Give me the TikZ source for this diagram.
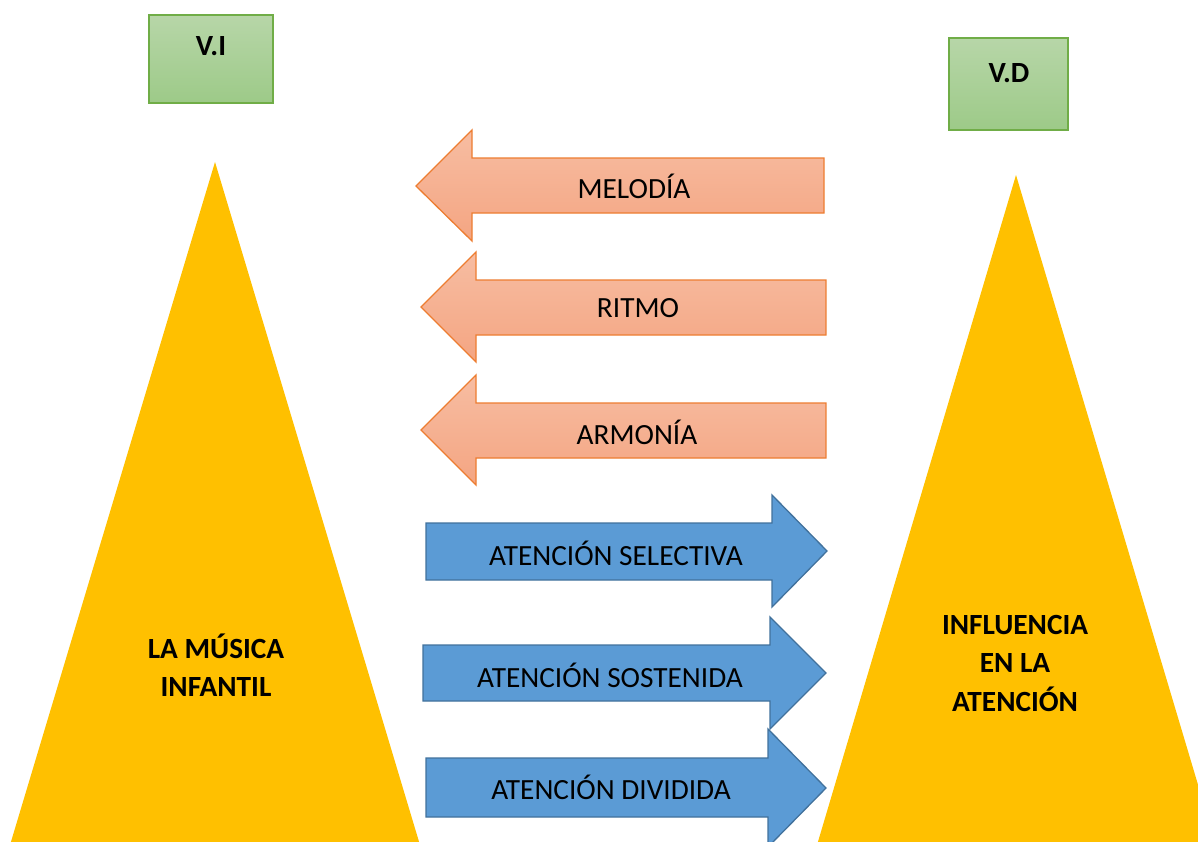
\documentclass[tikz,border=0pt]{standalone}
\usepackage{fontspec}
\setmainfont{Carlito}
\definecolor{tri}{HTML}{FFC000}
\definecolor{gtop}{HTML}{B7D6A8}
\definecolor{gbot}{HTML}{9DCA88}
\definecolor{gline}{HTML}{70AD47}
\definecolor{otop}{HTML}{F7BDA2}
\definecolor{obot}{HTML}{F4A582}
\definecolor{oline}{HTML}{ED7D31}
\definecolor{bfill}{HTML}{5B9BD5}
\definecolor{bline}{HTML}{41719C}
\begin{document}
\begin{tikzpicture}[x=1pt,y=-1pt,
  vbox/.style={draw=gline,line width=1.3pt,top color=gtop,bottom color=gbot},
  triangle/.style={fill=tri},
  oarrow/.style={draw=oline,line width=1.3pt,top color=otop,bottom color=obot,line join=miter},
  barrow/.style={draw=bline,line width=1.3pt,fill=bfill,line join=miter},
  lbl/.style={font=\fontsize{29.3}{35}\selectfont,inner sep=0pt},
  blbl/.style={font=\fontsize{29.3}{38.5}\selectfont\bfseries,align=center,inner sep=0pt}]
\useasboundingbox (0,0) rectangle (1198,841);
\clip (0,0) rectangle (1198,841);
% triangles
\fill[triangle] (215,162) -- (420,845) -- (10,845) -- cycle;
\fill[triangle] (1016,175) -- (1216,845) -- (817,845) -- cycle;
% green boxes
\draw[vbox] (149,15) rectangle (273,103);
\draw[vbox] (949,38) rectangle (1068,130);
\node[blbl] (vi) at (211,46) {V.I};
\node[blbl] (vd) at (1009,73) {V.D};
% orange arrows (pointing left)
\draw[oarrow] (416,186) -- (472,130) -- (472,158) -- (824,158) -- (824,213) -- (472,213) -- (472,241) -- cycle;
\draw[oarrow] (421,307) -- (476,252) -- (476,280) -- (826,280) -- (826,335) -- (476,335) -- (476,362) -- cycle;
\draw[oarrow] (421,430) -- (476,375) -- (476,403) -- (826,403) -- (826,458) -- (476,458) -- (476,485) -- cycle;
\node[lbl] (mel) at (634,186) {MELODÍA};
\node[lbl] (rit) at (638,308) {RITMO};
\node[lbl] (arm) at (637,432) {ARMONÍA};
% blue arrows (pointing right)
\draw[barrow] (426,523) -- (772,523) -- (772,495) -- (827,551) -- (772,607) -- (772,580) -- (426,580) -- cycle;
\draw[barrow] (423,645) -- (770,645) -- (770,617) -- (826,673) -- (770,729) -- (770,701) -- (423,701) -- cycle;
\draw[barrow] (426,758) -- (768,758) -- (768,729) -- (826,788) -- (768,847) -- (768,817) -- (426,817) -- cycle;
\node[lbl] (sel) at (616,553) {ATENCIÓN SELECTIVA};
\node[lbl] (sos) at (610,675) {ATENCIÓN SOSTENIDA};
\node[lbl] (div) at (611,787) {ATENCIÓN DIVIDIDA};
% triangle labels
\node[blbl] (mus) at (216,665) {LA MÚSICA\\INFANTIL};
\node[blbl] (inf) at (1015,663) {INFLUENCIA\\EN LA\\ATENCIÓN};
\end{tikzpicture}
\end{document}
